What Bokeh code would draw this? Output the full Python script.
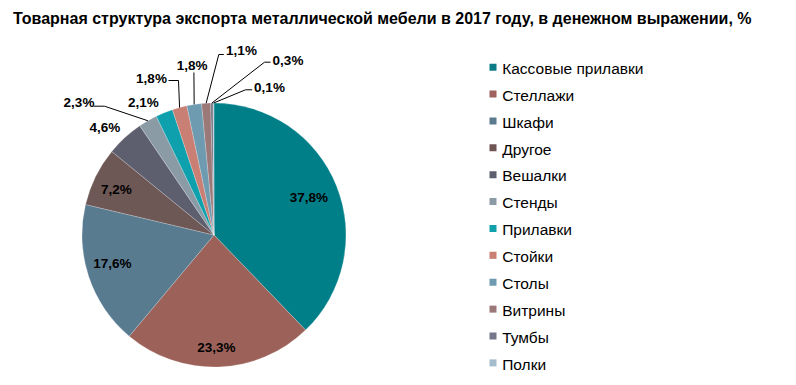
import math
from bokeh.plotting import figure
from bokeh.models import Range1d, ColumnDataSource
from bokeh.core.properties import value
from bokeh.embed import file_html
from bokeh.resources import INLINE

# ---------------- data ----------------
title_text = "Товарная структура экспорта металлической мебели в 2017 году, в денежном выражении, %"
categories = ["Кассовые прилавки", "Стеллажи", "Шкафи", "Другое", "Вешалки", "Стенды",
              "Прилавки", "Стойки", "Столы", "Витрины", "Тумбы", "Полки"]
shares = [37.8, 23.3, 17.6, 7.2, 4.6, 2.3, 2.1, 1.8, 1.8, 1.1, 0.3, 0.1]
colors = ["#007f89", "#9c6259", "#587b90", "#6e5856", "#5e5f6e", "#8b9ba6",
          "#0fa0ad", "#c97f74", "#6f9bb1", "#9c7979", "#747788", "#a4bccc"]
legend_colors = ["#0e7c86", "#a0625c", "#5b7a8e", "#6e5553", "#5e5f6e", "#8b9ba6",
                 "#12a0ad", "#c97f74", "#6f9bb1", "#9c7979", "#747788", "#a4bccc"]

# ---------------- layout ----------------
W, H = 780, 377


def dx(sx):
    return sx


def dy(sy):
    return H - sy


CX, CY, R = dx(213.5), dy(234.5), 132.0

# radial labels: index -> (radius factor, angle offset in degrees)
radial_labels = {0: (0.773, -0.5), 1: (0.85, -0.8), 2: (0.80, -2.7),
                 3: (0.815, 1.3), 4: (1.16, 3.0), 6: (1.137, 5.9)}
# leader-line labels: index -> (text centre sx, sy, elbow sx, sy, end sx, sy)
leader_labels = {5: (78.5, 101.5, 104, 105.7, 93, 105.7),
                 7: (151, 77.5, 178, 80, 168, 80),
                 8: (191.7, 65, 193.4, 72, 193.4, 72),
                 9: (241, 50, 218.3, 54, 223.3, 54),
                 10: (287.5, 60, 264, 61.7, 270, 61.7),
                 11: (269, 86.7, 245, 89.3, 251.7, 89.3)}

p = figure(width=W, height=H, output_backend="svg", toolbar_location=None,
           x_range=Range1d(0, W), y_range=Range1d(0, H),
           x_axis_type=None, y_axis_type=None, min_border=0)
p.grid.visible = False
p.outline_line_color = None
p.background_fill_color = "white"
p.border_fill_color = "white"

total = sum(shares)
starts, ends, mids = [], [], []
cum = 0.0
for s in shares:
    a0 = math.pi / 2 - cum / total * 2 * math.pi
    cum += s
    a1 = math.pi / 2 - cum / total * 2 * math.pi
    starts.append(a0)
    ends.append(a1)
    mids.append((a0 + a1) / 2)

src = ColumnDataSource(dict(start=starts, end=ends, color=colors))
p.wedge(x=CX, y=CY, radius=R, start_angle="start", end_angle="end", direction="clock",
        fill_color="color", line_color="white", line_alpha=0.35, line_width=0.6, source=src)

font = value("Liberation Sans")


def pct(v):
    return f"{v:.1f}".replace(".", ",") + "%"


lx, ly, lt = [], [], []
for i, (f, off) in radial_labels.items():
    a = mids[i] + math.radians(off)
    lx.append(CX + f * R * math.cos(a))
    ly.append(CY + f * R * math.sin(a))
    lt.append(pct(shares[i]))

for i, (tx, ty, ex, ey, bx, by) in leader_labels.items():
    lx.append(dx(tx))
    ly.append(dy(ty))
    lt.append(pct(shares[i]))
    ax = CX + R * math.cos(mids[i])
    ay = CY + R * math.sin(mids[i])
    p.line([ax, dx(ex), dx(bx)], [ay, dy(ey), dy(by)], line_color="black", line_width=1)

p.text(x=lx, y=ly, text=lt, text_font=font, text_font_size="13.5px",
       text_font_style="bold", text_align="center", text_baseline="middle",
       text_color="black")

# title
p.text(x=[dx(12.5)], y=[dy(17.5)], text=[title_text], text_font=font, text_font_size="16px",
       text_font_style="bold", text_align="left", text_baseline="middle", text_color="black")

# legend
rows = [66.7 + 26.88 * k for k in range(len(categories))]
p.scatter(x=[dx(492.5)] * len(categories), y=[dy(r) for r in rows], marker="square", size=7,
          fill_color=legend_colors, line_color=None)
p.text(x=[dx(501.7)] * len(categories), y=[dy(r + 1.2) for r in rows], text=categories,
       text_font=font, text_font_size="15.5px", text_align="left", text_baseline="middle",
       text_color="black")

open("out.html", "w").write(file_html(p, INLINE))
